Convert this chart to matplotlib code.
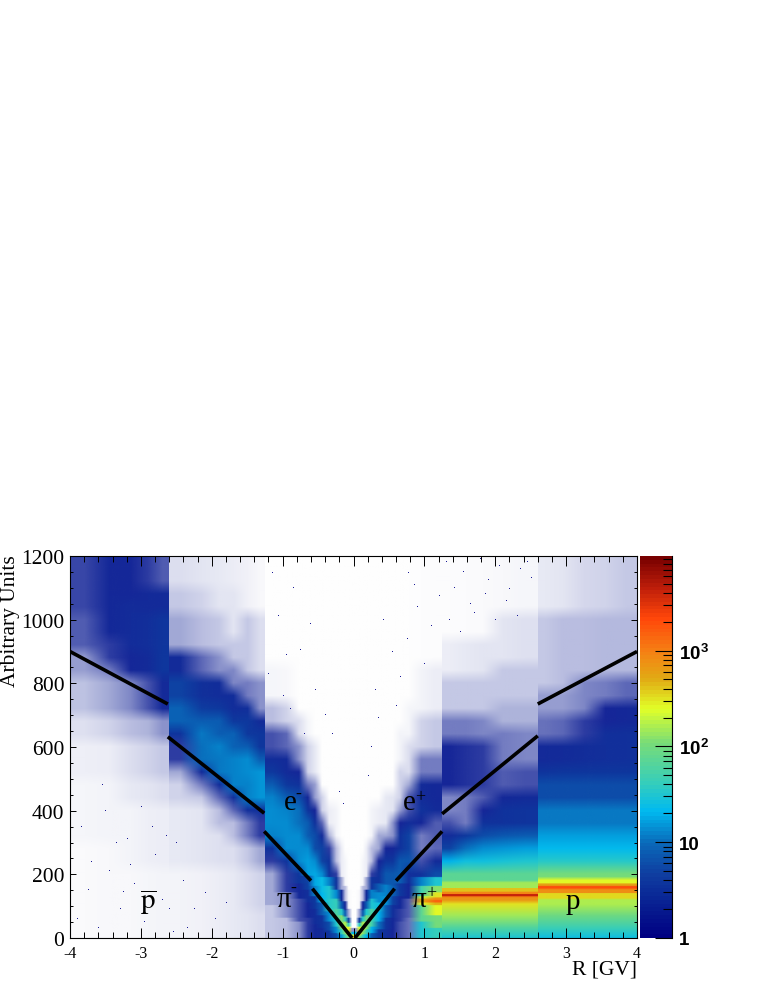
import numpy as np
import matplotlib
matplotlib.use("Agg")
import matplotlib.pyplot as plt
from matplotlib.colors import LinearSegmentedColormap, ListedColormap, LogNorm, Normalize
from matplotlib.cm import ScalarMappable
from matplotlib.image import NonUniformImage
from matplotlib.patches import Rectangle
from matplotlib.ticker import MultipleLocator, FixedLocator, NullFormatter

plt.rcParams["axes.unicode_minus"] = False

# ---- R-bin edges of the hand-read density table ----
r_edges = [-4, -3.6, -3.3, -3.0, -2.8, -2.6, -2.3, -2.0, -1.8, -1.6, -1.4, -1.25, -1.05, -0.85, -0.7, -0.6, -0.5,
           -0.4, -0.3, -0.2, -0.15, -0.1, -0.05, 0, 0.05, 0.1, 0.15, 0.2, 0.3, 0.4, 0.5, 0.6, 0.7, 0.85, 1.05, 1.25,
           1.45, 1.7, 1.95, 2.25, 2.6, 2.8, 3.1, 3.4, 3.7, 4]
# Jumps in the picture: the histogram is not continuous across these R values
r_breaks = [-4, -2.6, -1.25, 1.25, 2.6, 4]
# Rows at which the table is looked up; the image draws smoothly between them
y_inner_low = np.arange(0, 200, 4.0)
y_high = np.arange(200, 1201, 40.0)
y_outer_low = np.array([0, 30, 70, 105, 118, 124, 128, 131, 133, 135, 138, 141, 146, 150, 154, 157, 160, 164, 168,
                        172, 180, 192], float)

# For every R bin: upper y of each run, and its density (below 1: covered fraction of white; above: counts)
n01_top = [300, 500, 600, 700, 800, 900, 1000, 1200]
n01_val = [.02, .04, .07, .14, .28, .45, .75, .85]
n02_top = [300, 500, 600, 700, 800, 850, 950, 1200]
n02_val = [.03, .05, .08, .2, .4, .6, .9, 1.2]
n03_top = [200, 400, 500, 600, 700, 800, 900, 1050, 1200]
n03_val = [.03, .05, .1, .15, .3, .55, 1.1, 1.6, 1.1]
n04_top = [200, 400, 500, 600, 700, 800, 900, 1000, 1100, 1200]
n04_val = [.04, .07, .12, .2, .35, .8, 1.5, 2, 1.4, .9]
n05_top = [200, 400, 500, 600, 700, 800, 900, 1000, 1100, 1200]
n05_val = [.05, .08, .15, .25, .5, 1.4, 3.5, 3.2, 1.5, .75]
n06_top = [200, 400, 500, 550, 600, 650, 720, 800, 900, 1000, 1100, 1200]
n06_val = [.05, .1, .2, .4, .9, 3, 9, 5, 1.5, .4, .25, .15]
n07_top = [200, 400, 450, 500, 540, 600, 650, 700, 750, 800, 900, 1000, 1100, 1200]
n07_val = [.06, .12, .25, .6, 1.5, 10, 11, 8, 4.5, 2.2, .7, .3, .2, .12]
n08_top = [200, 350, 420, 470, 510, 570, 620, 680, 730, 800, 900, 1000, 1100, 1200]
n08_val = [.08, .14, .3, .7, 1.8, 11, 12, 8, 4, 1.8, .5, .25, .12, .1]
n09_top = [200, 300, 380, 430, 470, 530, 590, 640, 700, 760, 850, 950, 1100, 1200]
n09_val = [.1, .15, .3, .7, 2, 12, 13, 9, 4, 1.8, .55, .25, .12, .08]
n10_top = [100, 200, 300, 370, 420, 500, 560, 620, 680, 730, 830, 1000, 1200]
n10_val = [.12, .15, .25, .6, 2, 13, 14, 8, 4, 2, .6, .25, .06]
n11_top = [100, 200, 300, 360, 400, 480, 540, 590, 640, 700, 800, 1000, 1200]
n11_val = [.15, .2, .4, .9, 2.5, 15, 15, 8, 3.5, 1.5, .5, .15, .03]
n12_top = [100, 200, 270, 310, 350, 400, 450, 500, 540, 590, 650, 750, 850, 1200]
n12_val = [.25, .4, .9, 2.5, 13, 14, 12, 8, 4, 1.8, .8, .3, .04, .004]
n13_top = [60, 140, 200, 260, 320, 380, 420, 460, 500, 560, 640, 750, 850, 1200]
n13_val = [.3, .5, .9, 3, 14, 14, 12, 8, 4, 1.5, .7, .2, .03, .002]
n14_top = [50, 120, 170, 220, 280, 340, 400, 440, 480, 530, 600, 700, 1200]
n14_val = [.5, .8, 1.3, 3.5, 14, 14, 10, 6, 2.5, 1.1, .5, .15, .002]
n15_top = [60, 110, 150, 195, 250, 300, 360, 400, 440, 500, 600, 700, 1200]
n15_val = [.9, 1.1, 2, 5, 16, 14, 8, 3, 1.2, .6, .2, .04, .002]
n16_top = [40, 90, 130, 160, 220, 260, 320, 360, 420, 480, 600, 1200]
n16_val = [1.2, 1.8, 4, 12, 18, 14, 6, 2.5, 1, .45, .1, .002]
n17_top = [30, 70, 110, 140, 190, 230, 280, 330, 380, 470, 1200]
n17_val = [1.5, 3, 8, 22, 24, 14, 5, 1.6, .7, .2, .002]
n18_top = [20, 50, 80, 120, 160, 190, 240, 290, 340, 430, 1200]
n18_val = [3, 6, 14, 35, 30, 12, 3, .9, .35, .08, .001]
n19_top = [15, 35, 60, 90, 120, 150, 190, 230, 290, 400, 1200]
n19_val = [6, 14, 30, 60, 40, 14, 3, .9, .3, .05, .001]
n20_top = [10, 25, 50, 70, 90, 115, 150, 190, 300, 1200]
n20_val = [15, 40, 100, 110, 35, 8, 1.5, .4, .08, 0]
n21_top = [8, 20, 35, 50, 65, 85, 115, 160, 250, 1200]
n21_val = [40, 110, 230, 180, 45, 8, 1.2, .3, .04, 0]
n22_top = [5, 12, 22, 32, 45, 60, 90, 150, 1200]
n22_val = [100, 300, 500, 250, 40, 5, .4, .03, 0]
n23_top = [4, 8, 16, 30, 1200]
n23_val = [300, 200, 20, .5, 0]

p01_top = [4, 8, 16, 30, 1200]
p01_val = [300, 200, 20, .5, 0]
p02_top = [5, 12, 22, 32, 45, 60, 90, 150, 1200]
p02_val = [100, 300, 450, 220, 35, 4, .4, .03, 0]
p03_top = [8, 20, 35, 50, 65, 85, 115, 160, 250, 1200]
p03_val = [40, 120, 250, 160, 35, 7, 1.2, .3, .04, 0]
p04_top = [10, 25, 50, 70, 90, 115, 150, 190, 300, 1200]
p04_val = [20, 50, 120, 90, 30, 8, 1.5, .4, .08, 0]
p05_top = [15, 35, 60, 90, 120, 150, 190, 230, 290, 400, 1200]
p05_val = [8, 20, 50, 60, 30, 12, 3, .9, .3, .05, .001]
p06_top = [25, 50, 80, 110, 140, 170, 210, 260, 320, 420, 1200]
p06_val = [4, 10, 20, 25, 14, 8, 2.5, 1, .4, .08, .001]
p07_top = [25, 60, 100, 130, 165, 200, 240, 290, 350, 450, 1200]
p07_val = [2, 3, 8, 15, 12, 7, 3, 1, .4, .1, .002]
p08_top = [30, 60, 100, 130, 160, 200, 260, 310, 370, 470, 1200]
p08_val = [1, 1.2, 2, 5, 9, 7, 3.5, 1.1, .5, .12, .002]
p09_top = [50, 90, 130, 170, 210, 270, 320, 380, 430, 520, 640, 1200]
p09_val = [.8, .9, 1.3, 4, 8, 7, 2.5, 1, .45, .2, .05, .002]
p10_top = [60, 120, 170, 210, 260, 330, 380, 440, 500, 600, 750, 1200]
p10_val = [.65, .75, 1.1, 2, 7, 5, 1.8, .8, .4, .15, .04, .002]
p11_top = [50, 100, 110, 120, 130, 160, 190, 230, 270, 320, 360, 420, 480, 560, 700, 850, 1200]
p11_val = [30, 70, 250, 500, 200, 50, 12, 2.5, .8, .6, 1.1, 2.5, 1.5, .6, .2, .05, .005]
p12_top = [30, 70, 100, 108, 116, 125, 140, 160, 190, 225, 260, 310, 370, 430, 490, 560, 700, 850, 1200]
p12_val = [40, 100, 250, 500, 1500, 800, 300, 120, 30, 6, 1.5, .7, .75, 1.5, 1.2, .6, .25, .08, .01]
p13_top = [20, 50, 90, 115, 125, 130, 135, 142, 155, 175, 200, 240, 280, 320, 370, 460, 620, 700, 800, 950, 1200]
p13_val = [30, 60, 150, 300, 700, 1000, 4000, 900, 400, 150, 70, 20, 5, 1.6, .8, .55, 1, .6, .25, .08, .01]
p14_top = [20, 50, 90, 115, 125, 130, 135, 142, 155, 175, 200, 240, 280, 320, 350, 460, 620, 700, 800, 950, 1200]
p14_val = [30, 60, 150, 300, 700, 1000, 4000, 900, 400, 150, 70, 25, 10, 4, 1.5, .6, .95, .6, .25, .1, .015]
p15_top = [20, 50, 90, 115, 125, 130, 135, 142, 155, 175, 200, 240, 280, 330, 360, 400, 460, 620, 700, 800, 950, 1200]
p15_val = [30, 60, 150, 300, 700, 1000, 4000, 900, 400, 150, 70, 25, 14, 6, 2.5, 1, .75, .9, .55, .25, .12, .02]
p16_top = [20, 50, 90, 115, 125, 130, 135, 142, 155, 175, 200, 240, 280, 340, 400, 450, 550, 650, 750, 850, 1000, 1200]
p16_val = [30, 60, 150, 300, 700, 1000, 4000, 900, 400, 150, 70, 28, 15, 7, 2.5, 1.2, .75, .6, .35, .25, .12, .03]
p17_top = [20, 50, 90, 115, 125, 130, 135, 142, 155, 175, 200, 240, 280, 340, 400, 450, 540, 650, 750, 850, 1000, 1200]
p17_val = [30, 60, 150, 300, 700, 1000, 4000, 900, 400, 150, 70, 30, 16, 8, 3, 1.5, .8, .55, .35, .25, .14, .04]
p18_top = [20, 50, 90, 120, 140, 150, 156, 162, 170, 185, 215, 260, 300, 350, 420, 480, 550, 600, 700, 780, 1000, 1200]
p18_val = [25, 45, 90, 170, 350, 800, 1500, 2000, 600, 250, 100, 35, 22, 16, 11, 6, 3, 1.4, .65, .45, .25, .1]
p19_top = [20, 50, 90, 120, 140, 150, 156, 162, 170, 185, 215, 260, 300, 350, 420, 480, 550, 620, 700, 780, 1000, 1200]
p19_val = [25, 45, 90, 170, 350, 800, 1500, 2000, 600, 250, 100, 35, 22, 16, 11, 6, 3.5, 1.5, .7, .45, .3, .12]
p20_top = [20, 50, 90, 120, 140, 150, 156, 162, 170, 185, 215, 260, 300, 350, 420, 480, 550, 620, 700, 800, 1000, 1200]
p20_val = [25, 45, 90, 170, 350, 800, 1500, 2000, 600, 250, 100, 35, 22, 16, 11, 6, 3.5, 1.8, .9, .55, .3, .18]
p21_top = [20, 50, 90, 120, 140, 150, 156, 162, 170, 185, 215, 260, 300, 350, 420, 480, 550, 650, 720, 800, 1000, 1200]
p21_val = [25, 45, 90, 170, 350, 800, 1500, 2000, 600, 250, 100, 35, 22, 16, 11, 6, 3.5, 2, 1, .6, .32, .2]
p22_top = [20, 50, 90, 120, 140, 150, 156, 162, 170, 185, 215, 260, 300, 350, 420, 480, 550, 650, 730, 800, 1000, 1200]
p22_val = [25, 45, 90, 170, 350, 800, 1500, 2000, 600, 250, 100, 35, 22, 16, 11, 6, 3.5, 2.2, 1.2, .7, .32, .25]

col_tops = [n01_top, n02_top, n03_top, n04_top, n05_top, n06_top, n07_top, n08_top, n09_top, n10_top, n11_top, n12_top,
            n13_top, n14_top, n15_top, n16_top, n17_top, n18_top, n19_top, n20_top, n21_top, n22_top, n23_top,
            p01_top, p02_top, p03_top, p04_top, p05_top, p06_top, p07_top, p08_top, p09_top, p10_top, p11_top, p12_top,
            p13_top, p14_top, p15_top, p16_top, p17_top, p18_top, p19_top, p20_top, p21_top, p22_top]
col_vals = [n01_val, n02_val, n03_val, n04_val, n05_val, n06_val, n07_val, n08_val, n09_val, n10_val, n11_val, n12_val,
            n13_val, n14_val, n15_val, n16_val, n17_val, n18_val, n19_val, n20_val, n21_val, n22_val, n23_val,
            p01_val, p02_val, p03_val, p04_val, p05_val, p06_val, p07_val, p08_val, p09_val, p10_val, p11_val, p12_val,
            p13_val, p14_val, p15_val, p16_val, p17_val, p18_val, p19_val, p20_val, p21_val, p22_val]

# Stray single counts
stray_r = [-1.15, -0.85, -1.07, -0.62, -0.95, -1.2, -0.75, -0.55, -1.0, -0.4, -0.3, -0.7, -0.9, -0.2, -0.15,
           0.77, 0.42, 0.55, 0.3, 0.65, 0.9, 0.75, 1.0, 0.6, 0.25, 0.2, 0.35, 1.1, 0.85, 1.2,
           -3.9, -3.75, -3.6, -3.45, -3.3, -3.2, -3.1, -2.95, -2.8, -2.7, -2.55, -2.4, -2.25, -3.85, -3.5, -3.35,
           -3.0, -2.85, -2.6, -2.35, -2.1, -1.95, -1.8, -3.7, -3.55, -3.15, -2.5, -3.25, -2.9, -2.65,
           1.3, 1.42, 1.55, 1.65, 1.78, 1.9, 2.05, 2.2, 2.35, 2.5, 1.35, 1.5, 1.7, 1.85, 2.0, 2.15, 2.3, 2.45]
stray_y = [1148, 1101, 1010, 985, 890, 830, 905, 780, 760, 700, 640, 640, 720, 460, 420,
           1148, 1000, 900, 780, 820, 1040, 940, 860, 730, 600, 510, 690, 980, 1110, 1075,
           60, 150, 30, 210, 90, 310, 170, 50, 260, 120, 20, 180, 90, 350, 400, 300,
           410, 350, 90, 30, 140, 60, 110, 240, 480, 230, 300, 145, 130, 320,
           1180, 1100, 1150, 1050, 1190, 1125, 1170, 1095, 1160, 1130, 1000, 960, 1020, 1080, 1000, 1060, 1010, 1180]

# Black guide lines
line_r = [[-4, -2.62], [-2.62, -1.26], [-1.26, -0.6], [-0.58, -0.02],
          [0.02, 0.58], [0.6, 1.25], [1.25, 2.6], [2.6, 4]]
line_y = [[900, 735], [632, 392], [335, 180], [155, 0],
          [0, 155], [180, 335], [390, 635], [735, 900]]

# Palette sampled from the colour scale
pal_pos = [0, .16, .246, .33, .40, .51, .60, .68, .75, .84, .92, 1]
pal_rgb = [(0, 0, 130), (15, 60, 160), (10, 105, 185), (0, 185, 240), (50, 205, 190), (120, 220, 120),
           (225, 255, 40), (225, 170, 20), (245, 130, 20), (255, 70, 10), (190, 30, 10), (120, 0, 0)]
cmap = LinearSegmentedColormap.from_list(
    "root", [(p, tuple(c / 255 for c in rgb)) for p, rgb in zip(pal_pos, pal_rgb)], N=100)
VMAX = 9700
norm = LogNorm(vmin=1, vmax=VMAX)

# Display map on log10(density): sparse cells fade to white, since their single counts do not fill the cell
speck_rgb = np.array([22, 38, 152]) / 255
LOG_MIN = -3.0
samples = np.linspace(LOG_MIN, np.log10(VMAX), 4096)
disp_rgb = np.ones((samples.size, 3))
for i, t in enumerate(samples):
    if t < 0:
        disp_rgb[i] = 1 - (10.0 ** t) * (1 - speck_rgb)
    else:
        pal = np.array(cmap(norm(10.0 ** max(t, np.log10(4))))[:3])
        w = min(t / np.log10(4), 1.0)
        disp_rgb[i] = speck_rgb * (1 - w) + pal * w
disp_cmap = ListedColormap(disp_rgb)
disp_norm = Normalize(LOG_MIN, np.log10(VMAX))

W, H = 763, 987
fig = plt.figure(figsize=(W / 100, H / 100), dpi=100, facecolor="white")
ax = fig.add_axes([70 / W, (H - 939) / H, 567 / W, 382 / H])
ax.set_xlim(-4, 4)
ax.set_ylim(0, 1200)


def table_rows(y_nodes, columns):
    rows = np.zeros((len(y_nodes), len(columns)))
    for k, j in enumerate(columns):
        idx = np.searchsorted(col_tops[j], y_nodes, side="left")
        rows[:, k] = np.asarray(col_vals[j])[np.minimum(idx, len(col_vals[j]) - 1)]
    return np.log10(np.maximum(rows, 10.0 ** LOG_MIN))


edges = np.asarray(r_edges, float)
centres = (edges[:-1] + edges[1:]) / 2
for lo, hi in zip(r_breaks[:-1], r_breaks[1:]):
    columns = np.flatnonzero((centres > lo) & (centres < hi))
    low = y_inner_low if lo == -1.25 else y_outer_low
    y_nodes = np.concatenate([low, y_high])
    im = NonUniformImage(ax, interpolation="bilinear", cmap=disp_cmap, norm=disp_norm)
    im.set_data(centres[columns], y_nodes, table_rows(y_nodes, columns))
    ax.add_image(im)
    im.set_clip_path(Rectangle((lo, 0), hi - lo, 1200, transform=ax.transData))

ax.plot(stray_r, stray_y, ",", color="#1a1a96", zorder=2)
for xs, ys in zip(line_r, line_y):
    ax.plot(xs, ys, color="black", lw=2.6, solid_capstyle="butt", zorder=3)

ax.set_xlim(-4, 4)
ax.set_ylim(0, 1200)
ax.xaxis.set_major_locator(MultipleLocator(1))
ax.xaxis.set_minor_locator(MultipleLocator(0.2))
ax.yaxis.set_major_locator(MultipleLocator(200))
ax.yaxis.set_minor_locator(MultipleLocator(50))
ax.tick_params(axis="x", which="major", direction="in", top=True, length=7.5, width=0.7, labelsize=11.5, pad=5)
ax.tick_params(axis="x", which="minor", direction="in", top=True, length=4, width=0.7)
ax.tick_params(axis="y", which="major", direction="in", right=True, length=4, width=0.7, labelsize=15.5, pad=4)
ax.tick_params(axis="y", which="minor", direction="in", right=True, length=2.5, width=0.7)
for lab in ax.get_xticklabels() + ax.get_yticklabels():
    lab.set_fontfamily("Liberation Serif")
for s in ax.spines.values():
    s.set_linewidth(0.8)

serif = "Liberation Serif"
fig.text(637 / W, (H - 970) / H, "R [GV]", ha="right", va="center", family=serif, fontsize=15.5)
fig.text(11 / W, (H - 621) / H, "Arbitrary Units", rotation=90, ha="center", va="center", family=serif, fontsize=15.5)

plt.rcParams["mathtext.fontset"] = "stix"
lab_kw = dict(ha="center", va="center", fontsize=21, zorder=4, family=serif)
sup_kw = dict(ha="center", va="center", fontsize=13, zorder=4, family=serif)
ax.text(-2.89, 115, r"$\overline{\mathrm{p}}$", **lab_kw)
ax.text(-0.98, 122, "π", **lab_kw)
ax.text(-0.854, 160, "-", **sup_kw)
ax.text(-0.896, 427, "e", **lab_kw)
ax.text(-0.783, 455, "-", **sup_kw)
ax.text(0.783, 427, "e", **lab_kw)
ax.text(0.938, 443, "+", **sup_kw)
ax.text(0.917, 122, "π", **lab_kw)
ax.text(1.093, 144, "+", **sup_kw)
ax.text(3.09, 116, "p", **lab_kw)

cax = fig.add_axes([640 / W, (H - 939) / H, 32 / W, 382 / H])
cb = fig.colorbar(ScalarMappable(norm=norm, cmap=cmap), cax=cax, drawedges=False)
cb.outline.set_visible(False)
cax.spines["right"].set_visible(True)
cax.yaxis.set_major_locator(FixedLocator([1, 10, 100, 1000]))
minor = [m * 10 ** e for e in range(4) for m in range(2, 10) if m * 10 ** e < VMAX]
cax.yaxis.set_minor_locator(FixedLocator(minor))
cax.yaxis.set_minor_formatter(NullFormatter())
cax.set_yticks([1, 10, 100, 1000])
cax.set_yticklabels(["1", "10", r"$\mathregular{10^{2}}$", r"$\mathregular{10^{3}}$"],
                    family="Liberation Sans", fontsize=13.5, fontweight="bold")
cax.tick_params(axis="y", which="major", direction="in", right=True, length=12, width=0.8, pad=5)
cax.tick_params(axis="y", which="minor", direction="in", right=True, length=6.5, width=0.8)

fig.savefig("out.png", dpi=100)
